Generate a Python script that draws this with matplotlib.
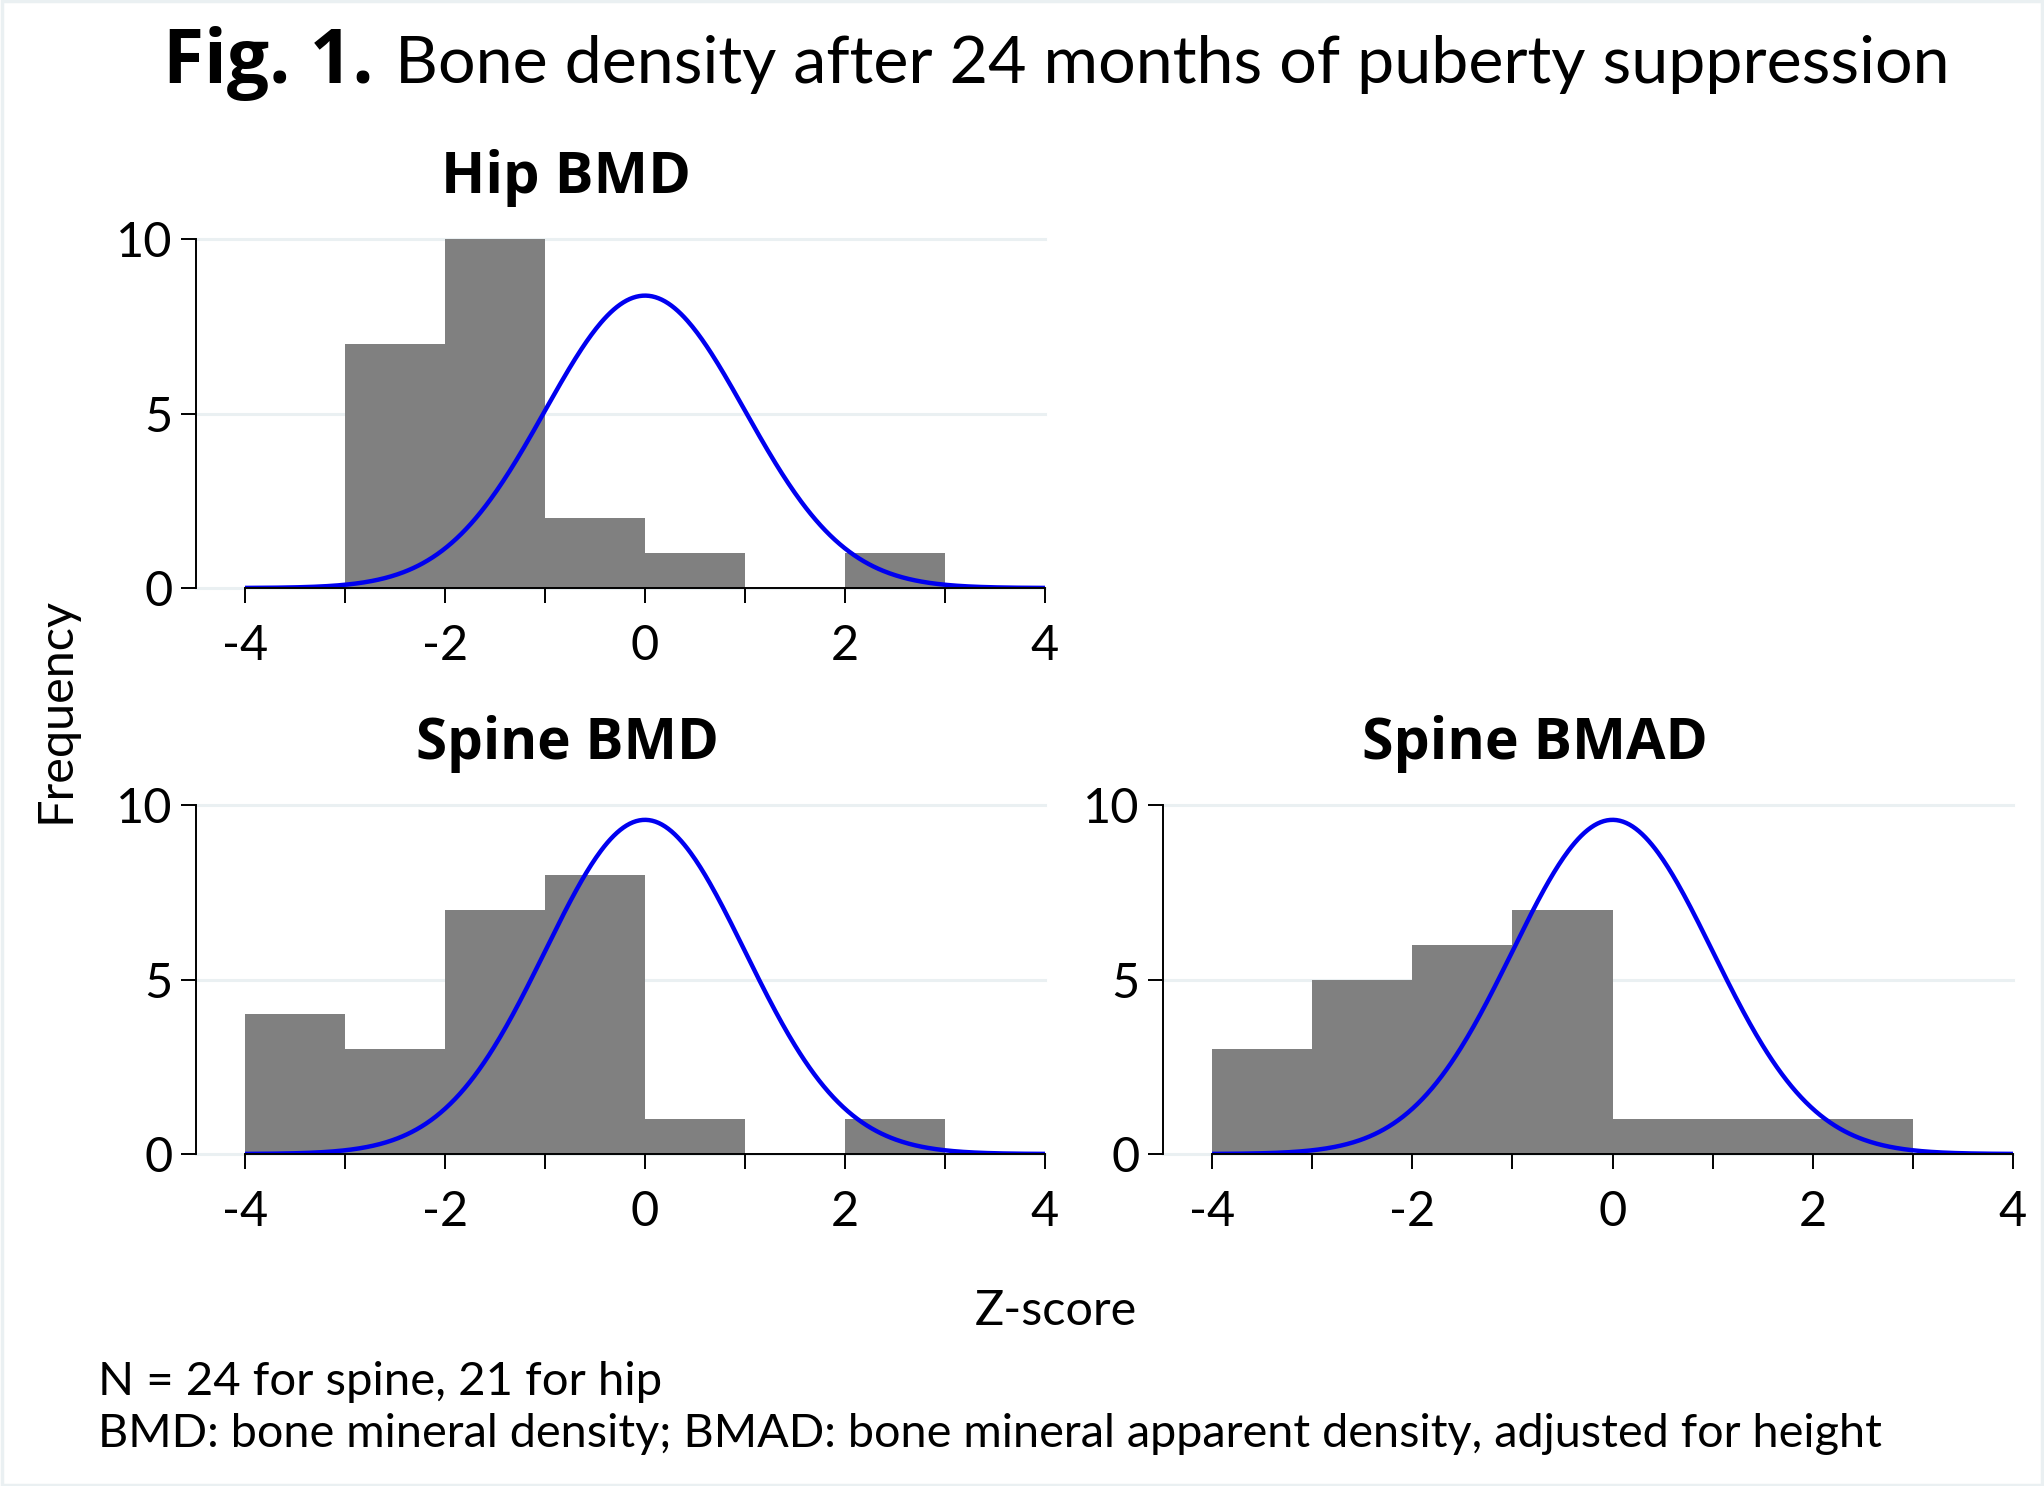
import numpy as np
import matplotlib
matplotlib.use("Agg")
import matplotlib.pyplot as plt
from matplotlib.patches import Rectangle

plt.rcParams['font.family'] = ['Lato', 'DejaVu Sans']
plt.rcParams['axes.unicode_minus'] = False

# ---- data ----
bin_left = [-4, -3, -2, -1, 0, 1, 2]
hip_counts = [0, 7, 10, 2, 1, 0, 1]
spine_bmd_counts = [4, 3, 7, 8, 1, 0, 1]
spine_bmad_counts = [3, 5, 6, 7, 1, 1, 1]
n_hip = 21
n_spine = 24
panel_titles = ["Hip BMD", "Spine BMD", "Spine BMAD"]
x_ticks = [-4, -2, 0, 2, 4]
x_minor = [-3, -1, 1, 3]
y_ticks = [0, 5, 10]

W, H = 2044, 1486
fig = plt.figure(figsize=(W / 100, H / 100), dpi=100)
renderer = fig.canvas.get_renderer()

GRID = '#EAF0F2'
BAR = '#808080'
LINE = '#0000F0'
FS = 35


def fitted_text(x_px, y_px, s, width_px, base_size, ha='left', **kw):
    """Place text so that it spans about width_px pixels."""
    t = fig.text(x_px / W, 1 - y_px / H, s, ha=ha, va='baseline', fontsize=base_size, **kw)
    w = t.get_window_extent(renderer).width
    t.set_fontsize(base_size * width_px / w)
    return t


def make_ax(left_px, top_px, right_px, bottom_px):
    return fig.add_axes([left_px / W, 1 - bottom_px / H,
                         (right_px - left_px) / W, (bottom_px - top_px) / H])


def draw(ax, counts, n):
    ax.set_xlim(-4.49, 4.0)
    ax.set_ylim(0, 10)
    for yv in y_ticks:
        ax.axhline(yv, color=GRID, lw=2.2, zorder=0, clip_on=False)
    ax.bar(bin_left, counts, width=1, align='edge', color=BAR, linewidth=0, zorder=2)
    xs = np.linspace(-4, 4, 500)
    ys = n / np.sqrt(2 * np.pi) * np.exp(-0.5 * xs ** 2)
    ax.plot(xs, ys, color=LINE, lw=3.2, zorder=3, solid_capstyle='butt')
    for s in ['top', 'right']:
        ax.spines[s].set_visible(False)
    ax.spines['bottom'].set_bounds(-4, 4)
    ax.spines['left'].set_bounds(0, 10)
    for s in ['bottom', 'left']:
        ax.spines[s].set_linewidth(1.4)
        ax.spines[s].set_zorder(4)
    ax.set_xticks(x_ticks)
    ax.set_xticks(x_minor, minor=True)
    ax.set_xticklabels([str(v) for v in x_ticks])
    ax.set_yticks(y_ticks)
    ax.set_yticklabels([str(v) for v in y_ticks])
    ax.tick_params(axis='x', which='both', direction='out', length=11, width=1.4, pad=15, labelsize=FS)
    ax.tick_params(axis='y', which='both', direction='out', length=11, width=1.4, pad=6, labelsize=FS)
    ax.set_facecolor('none')


ax1 = make_ax(196, 239, 1045, 588)
draw(ax1, hip_counts, n_hip)
ax2 = make_ax(196, 805, 1045, 1154)
draw(ax2, spine_bmd_counts, n_spine)
ax3 = make_ax(1163, 805, 2013, 1154)
draw(ax3, spine_bmad_counts, n_spine)

BOLD = ['Open Sans', 'DejaVu Sans']
# panel titles
fitted_text(566, 193, panel_titles[0], 250, 37, ha='center', fontweight='bold', family=BOLD)
fitted_text(567, 759, panel_titles[1], 303, 37, ha='center', fontweight='bold', family=BOLD)
fitted_text(1535, 759, panel_titles[2], 346, 37, ha='center', fontweight='bold', family=BOLD)

# main title
fitted_text(163, 83, "Fig. 1.", 211, 47, fontweight='bold', family=BOLD)
fitted_text(395, 83, "Bone density after 24 months of puberty suppression", 1556, 47)

# axis labels
fig.text(55 / W, 1 - 710 / H, "Frequency", rotation=90, ha='center', va='center', fontsize=FS)
fig.text(1056 / W, 1 - 1325 / H, "Z-score", ha='center', va='baseline', fontsize=FS)

# footnotes
fig.text(98 / W, 1 - 1395 / H, "N = 24 for spine, 21 for hip", ha='left', va='baseline', fontsize=34)
fitted_text(98, 1447,
            "BMD: bone mineral density; BMAD: bone mineral apparent density, adjusted for height",
            1787, 34)

# light frame
fig.patches.append(Rectangle((0.001, 0.001), 0.998, 0.998, transform=fig.transFigure,
                             fill=False, edgecolor=GRID, linewidth=2.5))

fig.savefig("out.png", dpi=100, facecolor='white')
